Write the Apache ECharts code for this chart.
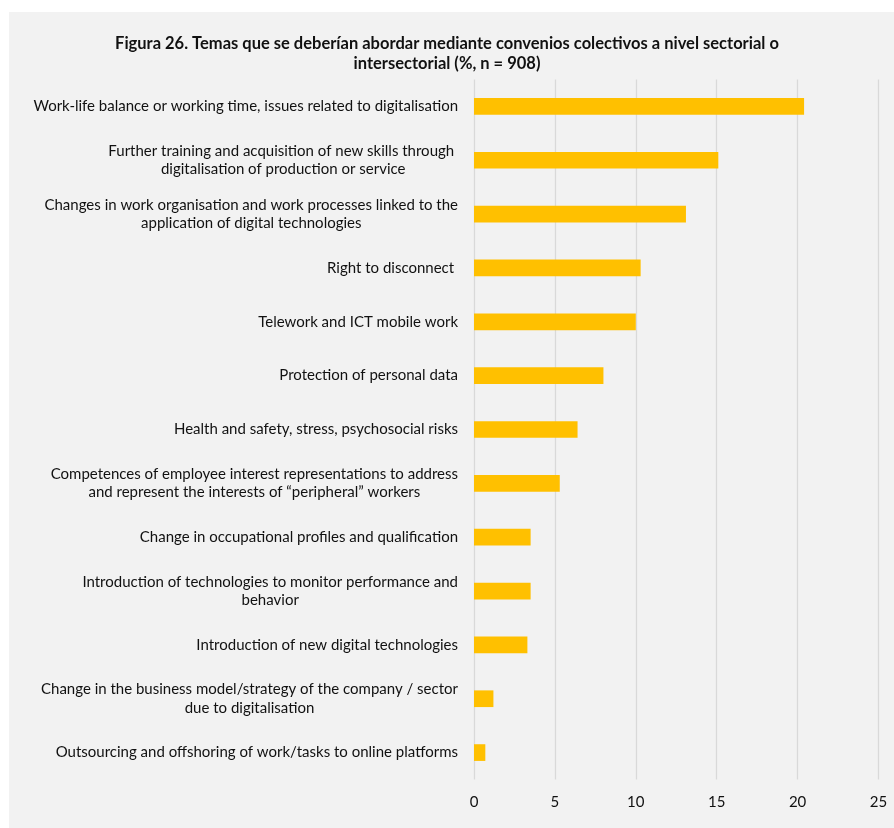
<!DOCTYPE html>
<html>
<head>
<meta charset="utf-8">
<script src="https://cdn.jsdelivr.net/npm/echarts@6/dist/echarts.min.js"></script>
<style>
html,body{margin:0;padding:0;background:#ffffff;}
#chart{width:894px;height:828px;}
</style>
</head>
<body>
<div id="chart"></div>
<script>
const titleText = 'Figura 26. Temas que se deberían abordar mediante convenios colectivos a nivel sectorial o\nintersectorial (%, n = 908)';
const categories = [
  'Work-life balance or working time, issues related to digitalisation',
  'Further training and acquisition of new skills through \ndigitalisation of production or service',
  'Changes in work organisation and work processes linked to the\napplication of digital technologies',
  'Right to disconnect ',
  'Telework and ICT mobile work',
  'Protection of personal data',
  'Health and safety, stress, psychosocial risks',
  'Competences of employee interest representations to address\nand represent the interests of \u201cperipheral\u201d workers',
  'Change in occupational profiles and qualification',
  'Introduction of technologies to monitor performance and\nbehavior',
  'Introduction of new digital technologies',
  'Change in the business model/strategy of the company / sector\ndue to digitalisation',
  'Outsourcing and offshoring of work/tasks to online platforms'
];
const values = [20.4, 15.1, 13.1, 10.3, 10.0, 8.0, 6.4, 5.3, 3.5, 3.5, 3.3, 1.2, 0.7];
const xMin = 0, xMax = 25, xStep = 5;

const FONT = 'Lato';
const LABEL_SIZE = 15;

const rich = {};
categories.forEach((c, i) => {
  rich['l' + i] = {
    fontFamily: FONT, fontSize: LABEL_SIZE, color: '#111111',
    lineHeight: 18.5, align: 'center'
  };
});

const chart = echarts.init(document.getElementById('chart'), null, {renderer: 'canvas'});
chart.setOption({
  backgroundColor: '#ffffff',
  animation: false,
  graphic: [{
    type: 'rect', z: -10, silent: true,
    shape: {x: 9, y: 12, width: 885, height: 816},
    style: {fill: '#f2f2f2'}
  }],
  title: {
    text: titleText,
    left: 'center',
    top: 29,
    textStyle: {
      fontFamily: FONT, fontWeight: 'bold', fontSize: 16.5,
      color: '#111111', lineHeight: 19.5
    }
  },
  grid: {left: 474, right: 15.5, top: 79.5, bottom: 48.5, containLabel: false},
  xAxis: {
    type: 'value', min: xMin, max: xMax, interval: xStep,
    axisLine: {show: false}, axisTick: {show: false},
    axisLabel: {fontFamily: FONT, fontSize: 15, color: '#111111', margin: 15},
    splitLine: {show: true, lineStyle: {color: '#d9d9d9', width: 1.3}}
  },
  yAxis: {
    type: 'category', data: categories, inverse: true,
    axisLine: {show: false}, axisTick: {show: false},
    axisLabel: {
      margin: 16, align: 'right',
      formatter: (v, idx) => v.split('\n').map(l => '{l' + idx + '|' + l + '}').join('\n'),
      rich: rich
    }
  },
  series: [{
    type: 'bar', data: values, barWidth: '31%',
    itemStyle: {color: '#ffc000'},
    silent: true
  }]
});
</script>
</body>
</html>
